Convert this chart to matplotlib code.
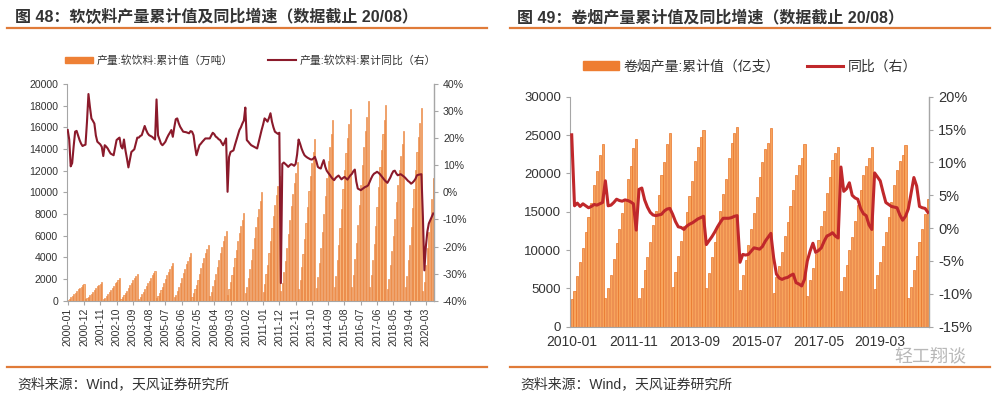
import numpy as np
import pandas as pd
import matplotlib
matplotlib.use('Agg')
import matplotlib.pyplot as plt
from matplotlib.lines import Line2D
from matplotlib.patches import Patch

plt.rcParams['font.family'] = ['Liberation Sans', 'Noto Sans CJK SC']

# -------------------------------------------------------------------------
# 图 48 软饮料: 月度累计产量 (万吨), 2000-01 ~ 2020-08
# -------------------------------------------------------------------------
drink_2000 = [110, 200, 320, 450, 590, 740, 890, 1050, 1190, 1310, 1420, 1540]
drink_2001 = [120, 220, 360, 500, 650, 830, 1000, 1170, 1320, 1460, 1580, 1720]
drink_2002 = [140, 270, 430, 600, 780, 990, 1190, 1400, 1590, 1750, 1900, 2060]
drink_2003 = [170, 320, 510, 700, 920, 1170, 1410, 1650, 1870, 2070, 2240, 2430]
drink_2004 = [190, 360, 580, 790, 1040, 1320, 1590, 1860, 2110, 2330, 2520, 2740]
drink_2005 = [240, 450, 720, 1000, 1310, 1660, 2000, 2350, 2660, 2930, 3170, 3450]
drink_2006 = [310, 570, 920, 1270, 1660, 2100, 2530, 2970, 3360, 3710, 4020, 4370]
drink_2007 = [360, 670, 1080, 1490, 1950, 2470, 2980, 3500, 3960, 4370, 4730, 5140]
drink_2008 = [450, 840, 1360, 1870, 2450, 3100, 3750, 4390, 4970, 5490, 5940, 6460]
drink_2009 = [570, 1060, 1710, 2350, 3090, 3900, 4710, 5520, 6250, 6900, 7470, 8120]
drink_2010 = [700, 1300, 2100, 2900, 3800, 4800, 5800, 6800, 7700, 8500, 9200, 10000]
drink_2011 = [800, 1500, 2420, 3340, 4370, 5520, 6670, 7820, 8860, 9780, 10580, 11500]
drink_2012 = [900, 1660, 2690, 3710, 4860, 6140, 7420, 8700, 9860, 10880, 11780, 12800]
drink_2013 = [1040, 1940, 3130, 4320, 5660, 7150, 8640, 10130, 11470, 12670, 13710, 14900]
drink_2014 = [1170, 2170, 3510, 4840, 6350, 8020, 9690, 11360, 12860, 14200, 15360, 16700]
drink_2015 = [1240, 2300, 3720, 5130, 6730, 8500, 10270, 12040, 13630, 15050, 16280, 17700]
drink_2016 = [1290, 2390, 3860, 5340, 6990, 8830, 10670, 12510, 14170, 15640, 16930, 18400]
drink_2017 = [1270, 2350, 3800, 5250, 6880, 8690, 10500, 12310, 13940, 15390, 16650, 18100]
drink_2018 = [1100, 2040, 3300, 4550, 5970, 7540, 9110, 10680, 12090, 13350, 14440, 15700]
drink_2019 = [1250, 2310, 3740, 5160, 6760, 8540, 10320, 12100, 13710, 15130, 16380, 17800]
drink_2020 = [850, 1750, 3300, 4900, 6300, 7600, 9400, 11300]

# 累计同比 (%)
drink_yoy_2000 = [23.0, 19.5, 9.6, 10.8, 17.0, 22.4, 22.7, 21.0, 19.3, 18.0, 17.1, 17.4]
drink_yoy_2001 = [17.6, 26.0, 36.3, 31.5, 27.3, 26.4, 25.4, 21.0, 18.7, 18.2, 17.7, 16.8]
drink_yoy_2002 = [13.4, 17.4, 16.9, 16.2, 15.2, 14.3, 14.0, 13.7, 16.5, 19.3, 19.8, 20.2]
drink_yoy_2003 = [17.0, 16.2, 19.5, 15.5, 12.5, 9.2, 12.0, 14.9, 15.4, 15.9, 18.0, 20.2]
drink_yoy_2004 = [20.2, 20.8, 21.1, 22.8, 24.5, 23.0, 21.8, 21.1, 20.8, 20.5, 20.0, 19.5]
drink_yoy_2005 = [34.3, 21.1, 19.5, 18.0, 17.4, 18.0, 18.7, 20.0, 21.1, 22.0, 23.0, 20.5]
drink_yoy_2006 = [24.0, 27.0, 27.3, 25.5, 24.2, 23.3, 22.4, 22.3, 22.2, 22.0, 21.8, 22.6]
drink_yoy_2007 = [22.4, 21.1, 17.0, 13.7, 15.5, 17.4, 18.0, 18.7, 19.3, 19.9, 19.9, 19.9]
drink_yoy_2008 = [19.9, 21.0, 22.0, 21.5, 20.6, 20.2, 19.6, 19.3, 18.3, 17.4, 18.5, 19.9]
drink_yoy_2009 = [0.2, 13.0, 14.9, 15.2, 15.5, 17.5, 19.3, 21.0, 23.0, 24.0, 25.4, 26.5]
drink_yoy_2010 = [31.3, 19.3, 18.7, 18.0, 17.4, 17.1, 16.8, 16.5, 16.2, 18.5, 20.8, 23.0]
drink_yoy_2011 = [25.0, 27.3, 26.8, 26.1, 27.5, 29.2, 26.1, 24.0, 22.4, 22.0, 21.6, 22.0]
drink_yoy_2012 = [-33.5, 10.5, 11.0, 10.5, 10.0, 9.4, 10.0, 10.4, 10.2, 9.8, 10.5, 14.0]
drink_yoy_2013 = [19.5, 18.0, 16.2, 14.8, 13.7, 13.2, 12.8, 12.5, 12.2, 12.1, 12.5, 13.1]
drink_yoy_2014 = [11.5, 9.4, 9.0, 8.8, 10.5, 11.9, 9.5, 8.0, 7.2, 6.5, 5.7, 5.0]
drink_yoy_2015 = [4.5, 5.3, 5.8, 6.2, 5.5, 4.8, 5.3, 5.7, 5.2, 4.7, 5.5, 6.3]
drink_yoy_2016 = [6.8, 7.8, 8.4, 4.0, 1.4, 1.1, 0.8, 1.2, 1.6, 2.0, 2.2, 2.6]
drink_yoy_2017 = [3.8, 5.1, 6.2, 6.9, 7.2, 7.6, 7.2, 6.7, 6.0, 5.3, 4.6, 4.0]
drink_yoy_2018 = [3.5, 4.5, 5.5, 6.8, 7.8, 8.0, 7.0, 6.3, 6.5, 6.7, 6.3, 5.9]
drink_yoy_2019 = [5.4, 4.8, 4.2, 3.8, 3.2, 3.6, 4.2, 5.0, 6.3, 6.5, 6.6, 6.7]
drink_yoy_2020 = [-9.0, -28.8, -20.0, -14.5, -11.5, -10.2, -9.0, -7.8]

# -------------------------------------------------------------------------
# 图 49 卷烟: 月度累计产量 (亿支), 2010-01 ~ 2020-08
# -------------------------------------------------------------------------
cig_2010 = [3600, 4700, 6600, 8500, 10300, 12300, 14300, 16100, 18500, 20300, 22400, 23800]
cig_2011 = [3800, 5000, 6700, 8800, 10900, 12800, 14800, 16600, 19300, 21000, 23300, 24500]
cig_2012 = [3800, 5000, 7400, 9100, 11100, 13300, 15100, 17200, 19800, 21500, 23800, 25200]
cig_2013 = [5200, 7200, 9200, 11200, 13100, 15000, 17100, 19000, 21600, 23500, 24700, 25600]
cig_2014 = [5100, 7000, 9100, 11000, 13100, 15100, 17300, 19300, 22000, 24000, 25200, 26100]
cig_2015 = [4800, 6800, 8700, 10600, 12700, 14800, 16900, 19500, 21500, 23200, 24000, 25900]
cig_2016 = [4400, 6500, 7900, 9700, 11800, 13700, 15700, 17800, 19800, 21100, 22000, 23800]
cig_2017 = [4000, 6100, 7600, 9500, 11300, 13100, 15100, 17500, 19500, 21700, 22600, 23400]
cig_2018 = [4600, 6500, 8000, 10000, 11700, 13800, 15900, 17800, 19800, 21000, 22000, 23400]
cig_2019 = [4900, 6800, 8500, 10500, 12400, 14300, 16300, 18500, 20400, 21600, 22400, 23700]
cig_2020 = [3700, 5200, 7400, 9200, 11000, 12700, 14700, 16700]

cig_yoy_2010 = [14.2, 3.4, 3.8, 3.3, 3.7, 3.4, 3.1, 3.3, 3.6, 3.5, 3.7, 3.9]
cig_yoy_2011 = [7.2, 3.4, 3.5, 3.9, 4.4, 4.2, 4.1, 4.3, 4.2, 4.0, 3.7, -0.3]
cig_yoy_2012 = [5.9, 6.1, 4.3, 3.2, 2.4, 2.0, 1.9, 2.0, 2.1, 2.6, 2.9, 3.0]
cig_yoy_2013 = [2.1, 1.0, 0.2, 0.1, -0.2, 0.3, 0.6, 0.8, 1.1, 1.4, 1.6, 1.8]
cig_yoy_2014 = [-2.5, -1.9, -1.3, -0.6, 0.2, 0.9, 1.5, 1.5, 1.5, 1.6, 1.8, 1.9]
cig_yoy_2015 = [-5.2, -4.0, -4.1, -4.0, -3.5, -3.0, -3.1, -3.2, -2.8, -2.0, -1.4, -0.8]
cig_yoy_2016 = [-4.5, -7.0, -7.6, -7.8, -7.6, -7.5, -7.2, -7.0, -8.3, -8.5, -8.8, -7.8]
cig_yoy_2017 = [-5.0, -3.5, -2.3, -3.7, -3.4, -3.0, -2.0, -1.2, -1.0, -0.7, -1.2, -1.5]
cig_yoy_2018 = [9.3, 5.6, 6.0, 6.9, 5.0, 4.6, 4.4, 3.0, 2.2, 1.9, 0.5, -0.2]
cig_yoy_2019 = [8.4, 7.8, 7.2, 5.5, 3.9, 3.6, 3.3, 3.2, 3.1, 2.0, 1.2, 1.8]
cig_yoy_2020 = [2.9, 5.3, 7.7, 6.4, 3.3, 3.1, 3.0, 2.4]

drink_value = sum([drink_2000, drink_2001, drink_2002, drink_2003, drink_2004, drink_2005,
                   drink_2006, drink_2007, drink_2008, drink_2009, drink_2010, drink_2011,
                   drink_2012, drink_2013, drink_2014, drink_2015, drink_2016, drink_2017,
                   drink_2018, drink_2019, drink_2020], [])
drink_yoy = sum([drink_yoy_2000, drink_yoy_2001, drink_yoy_2002, drink_yoy_2003, drink_yoy_2004,
                 drink_yoy_2005, drink_yoy_2006, drink_yoy_2007, drink_yoy_2008, drink_yoy_2009,
                 drink_yoy_2010, drink_yoy_2011, drink_yoy_2012, drink_yoy_2013, drink_yoy_2014,
                 drink_yoy_2015, drink_yoy_2016, drink_yoy_2017, drink_yoy_2018, drink_yoy_2019,
                 drink_yoy_2020], [])
cig_value = sum([cig_2010, cig_2011, cig_2012, cig_2013, cig_2014, cig_2015, cig_2016,
                 cig_2017, cig_2018, cig_2019, cig_2020], [])
cig_yoy = sum([cig_yoy_2010, cig_yoy_2011, cig_yoy_2012, cig_yoy_2013, cig_yoy_2014,
               cig_yoy_2015, cig_yoy_2016, cig_yoy_2017, cig_yoy_2018, cig_yoy_2019,
               cig_yoy_2020], [])

drink_months = pd.period_range('2000-01', periods=len(drink_value), freq='M').strftime('%Y-%m')
cig_months = pd.period_range('2010-01', periods=len(cig_value), freq='M').strftime('%Y-%m')

TEXT = '#333333'
SPINE = '#A6A6A6'
ORANGE_LINE = '#E07B39'

fig = plt.figure(figsize=(9.95, 3.98), dpi=100)

# ---- 标题 / 分隔线 / 资料来源 ----
fig.text(15 / 995, 1 - 17 / 398, '图 48：软饮料产量累计值及同比增速（数据截止 20/08）',
         fontsize=11.5, fontweight='bold', color=TEXT, va='center')
fig.text(517 / 995, 1 - 17 / 398, '图 49：卷烟产量累计值及同比增速（数据截止 20/08）',
         fontsize=11.5, fontweight='bold', color=TEXT, va='center')
for x0, x1 in [(7, 487), (510, 990)]:
    fig.add_artist(Line2D([x0 / 995, x1 / 995], [1 - 28 / 398] * 2, color=ORANGE_LINE, lw=1.6))
    fig.add_artist(Line2D([x0 / 995, x1 / 995], [1 - 367 / 398] * 2, color=ORANGE_LINE, lw=1.6))
fig.text(17 / 995, 1 - 384 / 398, '资料来源：Wind，天风证券研究所', fontsize=10, color=TEXT, va='center')
fig.text(520 / 995, 1 - 384 / 398, '资料来源：Wind，天风证券研究所', fontsize=10, color=TEXT, va='center')


def style_axes(ax, ax2, fs):
    for s in ['top']:
        ax.spines[s].set_visible(False)
        ax2.spines[s].set_visible(False)
    for s in ['left', 'bottom']:
        ax.spines[s].set_color(SPINE)
    ax2.spines['right'].set_color(SPINE)
    ax2.spines['left'].set_visible(False)
    ax2.spines['bottom'].set_visible(False)
    ax.tick_params(axis='y', colors=TEXT, labelsize=fs, length=3, color=SPINE)
    ax2.tick_params(axis='y', colors=TEXT, labelsize=fs, length=3, color=SPINE)


# ---- 图 48 ----
ax = fig.add_axes([67 / 995, 1 - 300.7 / 398, 367 / 995, 216.7 / 398])
x = np.arange(len(drink_value))
ax.bar(x, drink_value, width=0.75, color='#F7B47A', edgecolor='#E8782F', linewidth=0.4)
ax.set_xlim(-0.5, len(x) - 0.5)
ax.set_ylim(0, 20000)
ax.set_yticks(np.arange(0, 20001, 2000))
ax.set_xticks(x[::11])
ax.set_xticklabels(drink_months[::11], rotation=90, fontsize=7.6, color=TEXT)
ax.tick_params(axis='x', length=3, color=SPINE, pad=2)
ax2 = ax.twinx()
ax2.plot(x, drink_yoy, color='#8B1A2B', lw=1.5)
ax2.set_ylim(-40, 40)
ax2.set_yticks(np.arange(-40, 41, 10))
ax2.set_yticklabels([f'{v}%' for v in range(-40, 41, 10)])
style_axes(ax, ax2, 7.6)
ax.legend(handles=[Patch(color='#EE8035', label='产量:软饮料:累计值（万吨）'),
                   Line2D([], [], color='#8B1A2B', lw=1.5, label='产量:软饮料:累计同比（右）')],
          loc='center', bbox_to_anchor=(0.5, 1.11), ncol=2, frameon=False, fontsize=7.8,
          handlelength=2.6, handleheight=0.5, columnspacing=3.2, handletextpad=0.3,
          labelcolor=TEXT)

# ---- 图 49 ----
bx = fig.add_axes([570.3 / 995, 1 - 326.7 / 398, 359 / 995, 230 / 398])
x = np.arange(len(cig_value))
bx.bar(x, cig_value, width=0.75, color='#F7A45C', edgecolor='#E8742A', linewidth=0.5)
bx.set_xlim(-0.5, len(x) - 0.5)
bx.set_ylim(0, 30000)
bx.set_yticks(np.arange(0, 30001, 5000))
bx.set_xticks(x[::22])
bx.set_xticklabels(cig_months[::22], fontsize=10, color=TEXT)
bx.tick_params(axis='x', length=0, pad=6)
bx2 = bx.twinx()
bx2.plot(x, cig_yoy, color='#C0282B', lw=2.2)
bx2.set_ylim(-15, 20)
bx2.set_yticks(np.arange(-15, 21, 5))
bx2.set_yticklabels([f'{v}%' for v in range(-15, 21, 5)])
style_axes(bx, bx2, 9.5)
bx2.tick_params(axis='y', labelsize=10.5)
bx.legend(handles=[Patch(color='#EE7D31', label='卷烟产量:累计值（亿支）'),
                   Line2D([], [], color='#C0282B', lw=2.2, label='同比（右）')],
          loc='center', bbox_to_anchor=(0.5, 1.13), ncol=2, frameon=False, fontsize=10,
          handlelength=2.6, handleheight=0.6, columnspacing=2.0, handletextpad=0.3,
          labelcolor=TEXT)

# 水印
fig.text(930 / 995, 1 - 357 / 398, '轻工翔谈', fontsize=13, color='#9A9A9A', alpha=0.7,
         ha='center', va='center')

fig.savefig('out.png', dpi=100)
